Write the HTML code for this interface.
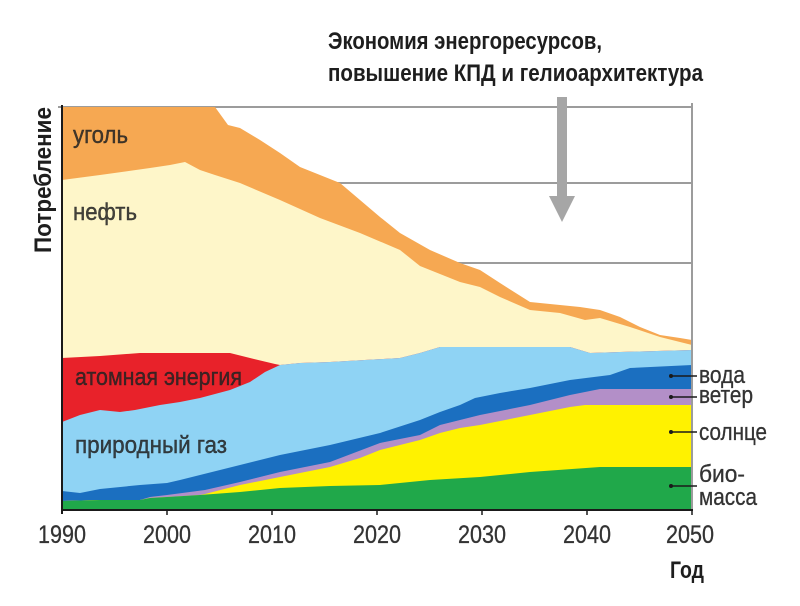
<!DOCTYPE html>
<html><head><meta charset="utf-8">
<style>
html,body{margin:0;padding:0;background:#fff;}
svg{display:block;}
text{font-family:"Liberation Sans Narrow","Liberation Sans","DejaVu Sans",sans-serif;}
</style></head>
<body>
<svg width="800" height="606" viewBox="0 0 800 606" xmlns="http://www.w3.org/2000/svg">
<rect width="800" height="606" fill="#fff"/>
<!-- gridlines -->
<g stroke="#9c9c9c" stroke-width="2">
<line x1="58" y1="107" x2="692" y2="107"/>
<line x1="62" y1="183" x2="692" y2="183"/>
<line x1="62" y1="263" x2="692" y2="263"/>
</g>
<!-- coal -->
<polygon fill="#f6a852" points="62,107 215,107 228,125 240,128 260,140 280,153 300,167 320,175 340,183 360,200 380,217 400,233 430,250 460,263 480,270 500,283 530,302 560,305 580,307 600,310 620,317 640,327 660,335 680,338 692,340 692,509 62,509"/>
<!-- oil -->
<polygon fill="#fef6c9" points="62,180 100,175 150,168 170,165 185,162 200,170 215,175 240,183 280,200 320,218 360,233 400,250 420,266 460,282 480,287 500,297 530,310 560,313 585,320 600,318 630,327 660,337 692,345 692,509 62,509"/>
<!-- nuclear -->
<polygon fill="#e8222a" points="62,358 100,356 140,353 230,353 250,358 275,364 280,365 300,363 330,362 400,358 420,353 440,347 570,347 590,353 620,352 692,350 692,509 62,509"/>
<!-- gas -->
<polygon fill="#8fd3f4" points="62,422 80,415 100,410 120,412 135,410 160,405 180,402 200,398 230,390 250,382 265,372 280,365 300,363 330,362 400,358 420,353 440,347 570,347 590,353 620,352 692,350 692,509 62,509"/>
<!-- hydro -->
<polygon fill="#1b6fc0" points="62,491 80,493 100,489 140,485 167,483 180,480 200,475 240,465 280,455 330,445 380,433 420,420 440,412 460,405 475,398 500,393 530,388 570,380 610,375 630,368 692,365 692,509 62,509"/>
<!-- wind -->
<polygon fill="#b38fc8" points="62,501 100,500 140,500 150,497 167,495 205,490 240,482 280,472 330,462 380,443 420,435 440,425 460,420 480,415 530,405 570,395 600,389 692,389 692,509 62,509"/>
<!-- solar -->
<polygon fill="#fff200" points="62,501 100,500 140,500 150,498 167,497 200,495 205,494 240,485 280,477 330,467 360,458 380,450 420,440 440,433 460,428 480,425 530,415 570,407 585,405 692,405 692,509 62,509"/>
<!-- biomass -->
<polygon fill="#20a84a" points="62,501 100,500 140,500 150,498 167,497 200,495 240,492 280,488 330,486 380,485 430,480 480,477 530,472 600,467 692,467 692,509 62,509"/>

<!-- right border -->
<line x1="692" y1="103" x2="692" y2="511" stroke="#9c9c9c" stroke-width="2"/>
<!-- axes -->
<line x1="62" y1="105" x2="62" y2="514" stroke="#1a1a1a" stroke-width="2"/>
<line x1="61" y1="510" x2="693" y2="510" stroke="#1a1a1a" stroke-width="2"/>
<g stroke="#1a1a1a" stroke-width="1.5">
<line x1="167" y1="510" x2="167" y2="515"/>
<line x1="272" y1="510" x2="272" y2="515"/>
<line x1="377" y1="510" x2="377" y2="515"/>
<line x1="482" y1="510" x2="482" y2="515"/>
<line x1="587" y1="510" x2="587" y2="515"/>
<line x1="692" y1="510" x2="692" y2="515"/>
</g>

<!-- arrow -->
<rect x="557" y="97" width="10" height="101" fill="#a6a6a6"/>
<polygon points="549,196 575,196 562,222" fill="#a6a6a6"/>

<!-- title -->
<g font-weight="bold" fill="#1e1e1e" font-size="24">
<text x="328" y="49" textLength="274" lengthAdjust="spacingAndGlyphs">Экономия энергоресурсов,</text>
<text x="328" y="81" textLength="375" lengthAdjust="spacingAndGlyphs">повышение КПД и гелиоархитектура</text>
</g>

<!-- y label -->
<text transform="translate(51,253) rotate(-90)" font-weight="bold" font-size="24" fill="#1e1e1e" textLength="146" lengthAdjust="spacingAndGlyphs">Потребление</text>

<!-- x tick labels -->
<g font-size="25" fill="#333" stroke="#333" stroke-width="0.3" text-anchor="middle">
<text x="62" y="543" textLength="48" lengthAdjust="spacingAndGlyphs">1990</text>
<text x="167" y="543" textLength="48" lengthAdjust="spacingAndGlyphs">2000</text>
<text x="272" y="543" textLength="48" lengthAdjust="spacingAndGlyphs">2010</text>
<text x="377" y="543" textLength="48" lengthAdjust="spacingAndGlyphs">2020</text>
<text x="482" y="543" textLength="48" lengthAdjust="spacingAndGlyphs">2030</text>
<text x="587" y="543" textLength="48" lengthAdjust="spacingAndGlyphs">2040</text>
<text x="690" y="543" textLength="48" lengthAdjust="spacingAndGlyphs">2050</text>
</g>
<text x="670" y="578" font-weight="bold" font-size="24" fill="#1e1e1e" textLength="34" lengthAdjust="spacingAndGlyphs">Год</text>

<!-- inner labels -->
<g font-size="24" fill="#222" stroke="#222" stroke-width="0.4" fill-opacity="0.85" stroke-opacity="0.85">
<text x="73" y="143" textLength="55" lengthAdjust="spacingAndGlyphs">уголь</text>
<text x="73" y="220" textLength="64" lengthAdjust="spacingAndGlyphs">нефть</text>
<text x="75" y="385" textLength="167" lengthAdjust="spacingAndGlyphs">атомная энергия</text>
<text x="75" y="453" textLength="152" lengthAdjust="spacingAndGlyphs">природный газ</text>
</g>

<!-- legend leaders -->
<g stroke="#1a1a1a" stroke-width="1.5">
<line x1="670" y1="376" x2="697" y2="376"/>
<line x1="670" y1="397" x2="697" y2="397"/>
<line x1="670" y1="432" x2="697" y2="432"/>
<line x1="670" y1="486" x2="697" y2="486"/>
</g>
<g fill="#1a1a1a">
<circle cx="671" cy="376" r="2"/>
<circle cx="671" cy="397" r="2"/>
<circle cx="671" cy="432" r="2"/>
<circle cx="671" cy="486" r="2"/>
</g>
<g font-size="24" fill="#333" stroke="#333" stroke-width="0.3">
<text x="699" y="383" textLength="46" lengthAdjust="spacingAndGlyphs">вода</text>
<text x="699" y="403" textLength="54" lengthAdjust="spacingAndGlyphs">ветер</text>
<text x="699" y="440" textLength="68" lengthAdjust="spacingAndGlyphs">солнце</text>
<text x="699" y="482" textLength="46" lengthAdjust="spacingAndGlyphs">био-</text>
<text x="699" y="505" textLength="58" lengthAdjust="spacingAndGlyphs">масса</text>
</g>
</svg>
</body></html>
